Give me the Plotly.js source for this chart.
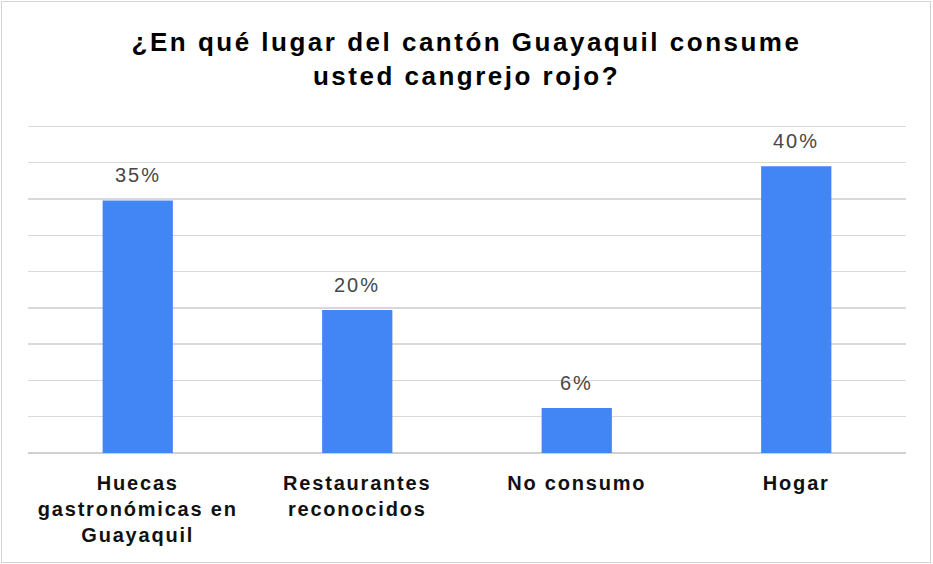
<!DOCTYPE html>
<html>
<head>
<meta charset="utf-8">
<script src="https://cdn.plot.ly/plotly-3.0.1.min.js"></script>
<style>
  html, body { margin: 0; padding: 0; background: #ffffff; }
  #frame { position: absolute; left: 1px; top: 1px; width: 930px; height: 562px; border: 1px solid #d4d4d4; box-sizing: border-box; }
  #chart { position: absolute; left: 0; top: 0; width: 933px; height: 564px; }
  #chart .gtitle { letter-spacing: 2.5px; }
  #chart .xtick text { letter-spacing: 1.8px; }
  #chart .annotation-text { letter-spacing: 2px; }
</style>
</head>
<body>
<div id="frame"></div>
<div id="chart"></div>
<script>
const categories = ["Huecas<br>gastronómicas en<br>Guayaquil", "Restaurantes<br>reconocidos", "No consumo", "Hogar"];
const values = [34.8, 19.7, 6.2, 39.5];
const valueLabels = ["35%", "20%", "6%", "40%"];
const chartTitle = "¿En qué lugar del cantón Guayaquil consume<br>usted cangrejo rojo?";

const trace = {
  type: "bar",
  x: categories,
  y: values,
  marker: { color: "#4285F4" },
  hoverinfo: "none"
};

const annotations = categories.map((c, i) => ({
  x: c,
  y: values[i],
  xref: "x",
  yref: "y",
  text: valueLabels[i],
  showarrow: false,
  yanchor: "bottom",
  yshift: 12,
  font: { family: "Liberation Sans, Arial, sans-serif", size: 20, color: "#474747" }
}));

const layout = {
  width: 933,
  height: 564,
  paper_bgcolor: "rgba(0,0,0,0)",
  plot_bgcolor: "#ffffff",
  margin: { l: 28, r: 27, t: 125, b: 111 },
  bargap: 0.68,
  showlegend: false,
  title: {
    text: chartTitle,
    font: { family: "Liberation Sans, Arial, sans-serif", size: 26, color: "#000000", weight: "bold" },
    x: 0.5,
    xanchor: "center",
    xref: "container",
    yref: "container",
    y: 0.909,
    yanchor: "top"
  },
  xaxis: {
    type: "category",
    showgrid: false,
    showline: false,
    zeroline: false,
    ticks: "",
    tickfont: { family: "Liberation Sans, Arial, sans-serif", size: 20, color: "#111111", weight: "bold" },
    ticklabelstandoff: 16
  },
  yaxis: {
    range: [0, 45.2],
    dtick: 5,
    showticklabels: false,
    showgrid: true,
    gridcolor: "#d9d9d9",
    gridwidth: 1.5,
    zeroline: true,
    zerolinecolor: "#d0d0d0",
    zerolinewidth: 1.5,
    showline: false,
    ticks: ""
  },
  annotations: annotations
};

Plotly.newPlot("chart", [trace], layout, { displayModeBar: false, staticPlot: true });
</script>
</body>
</html>
